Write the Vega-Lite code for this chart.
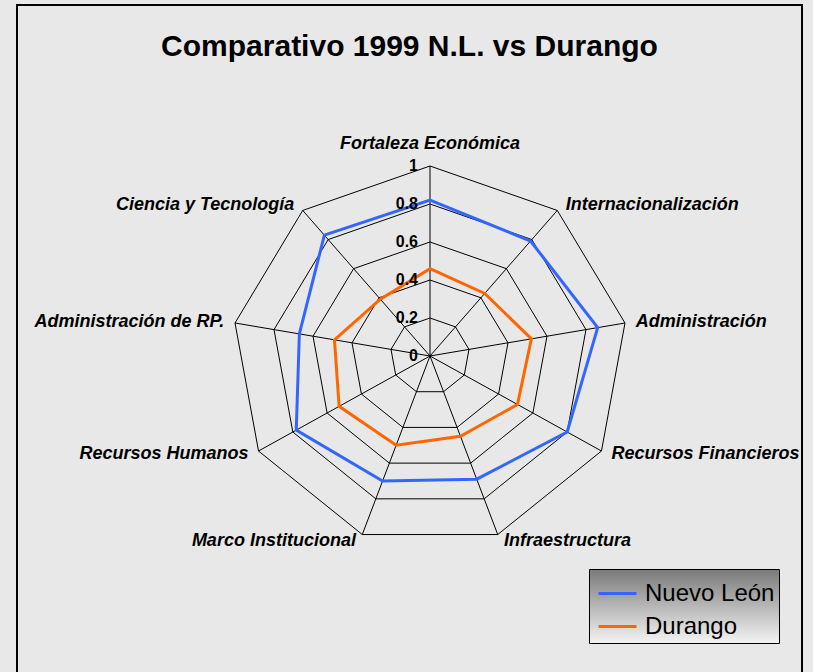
{
  "$schema": "https://vega.github.io/schema/vega-lite/v6.json",
  "width": 785,
  "height": 700,
  "autosize": {"type": "none"},
  "padding": {"left": 17, "top": 5, "right": 11, "bottom": 0},
  "background": "#e8e8e8",
  "title": {"text": "Comparativo 1999 N.L. vs Durango", "font": "Liberation Sans", "fontSize": 30, "fontWeight": "bold", "color": "black", "anchor": "middle", "offset": -57},
  "config": {"view": {"stroke": "black", "strokeWidth": 2}},
  "datasets": {
    "cats": [
      {"cat": "Fortaleza Económica", "i": 0, "levels": [0.2, 0.4, 0.6, 0.8, 1]},
      {"cat": "Internacionalización", "i": 1, "levels": [0.2, 0.4, 0.6, 0.8, 1]},
      {"cat": "Administración", "i": 2, "levels": [0.2, 0.4, 0.6, 0.8, 1]},
      {"cat": "Recursos Financieros", "i": 3, "levels": [0.2, 0.4, 0.6, 0.8, 1]},
      {"cat": "Infraestructura", "i": 4, "levels": [0.2, 0.4, 0.6, 0.8, 1]},
      {"cat": "Marco Institucional", "i": 5, "levels": [0.2, 0.4, 0.6, 0.8, 1]},
      {"cat": "Recursos Humanos", "i": 6, "levels": [0.2, 0.4, 0.6, 0.8, 1]},
      {"cat": "Administración de RP.", "i": 7, "levels": [0.2, 0.4, 0.6, 0.8, 1]},
      {"cat": "Ciencia y Tecnología", "i": 8, "levels": [0.2, 0.4, 0.6, 0.8, 1]}
    ],
    "series": [
      {"serie": "Nuevo León", "cat": "Fortaleza Económica", "i": 0, "v": 0.82},
      {"serie": "Nuevo León", "cat": "Internacionalización", "i": 1, "v": 0.79},
      {"serie": "Nuevo León", "cat": "Administración", "i": 2, "v": 0.86},
      {"serie": "Nuevo León", "cat": "Recursos Financieros", "i": 3, "v": 0.8},
      {"serie": "Nuevo León", "cat": "Infraestructura", "i": 4, "v": 0.69},
      {"serie": "Nuevo León", "cat": "Marco Institucional", "i": 5, "v": 0.7},
      {"serie": "Nuevo León", "cat": "Recursos Humanos", "i": 6, "v": 0.78},
      {"serie": "Nuevo León", "cat": "Administración de RP.", "i": 7, "v": 0.67},
      {"serie": "Nuevo León", "cat": "Ciencia y Tecnología", "i": 8, "v": 0.83},
      {"serie": "Durango", "cat": "Fortaleza Económica", "i": 0, "v": 0.46},
      {"serie": "Durango", "cat": "Internacionalización", "i": 1, "v": 0.43},
      {"serie": "Durango", "cat": "Administración", "i": 2, "v": 0.52},
      {"serie": "Durango", "cat": "Recursos Financieros", "i": 3, "v": 0.51},
      {"serie": "Durango", "cat": "Infraestructura", "i": 4, "v": 0.45},
      {"serie": "Durango", "cat": "Marco Institucional", "i": 5, "v": 0.5},
      {"serie": "Durango", "cat": "Recursos Humanos", "i": 6, "v": 0.53},
      {"serie": "Durango", "cat": "Administración de RP.", "i": 7, "v": 0.49},
      {"serie": "Durango", "cat": "Ciencia y Tecnología", "i": 8, "v": 0.39}
    ],
    "ticks": [
      {"t": 0, "lab": "0"},
      {"t": 0.2, "lab": "0.2"},
      {"t": 0.4, "lab": "0.4"},
      {"t": 0.6, "lab": "0.6"},
      {"t": 0.8, "lab": "0.8"},
      {"t": 1, "lab": "1"}
    ]
  },
  "layer": [
    {
      "data": {"name": "cats"},
      "transform": [
        {"flatten": ["levels"], "as": ["lev"]},
        {"calculate": "datum.i*2*PI/9", "as": "a"},
        {"calculate": "datum.lev*sin(datum.a)", "as": "gx"},
        {"calculate": "datum.lev*cos(datum.a)", "as": "gy"}
      ],
      "mark": {"type": "line", "interpolate": "linear-closed", "color": "black", "strokeWidth": 1},
      "encoding": {
        "x": {"field": "gx", "type": "quantitative", "scale": {"domain": [-1, 1], "range": [215, 611]}, "axis": null},
        "y": {"field": "gy", "type": "quantitative", "scale": {"domain": [-1, 1], "range": [541, 161]}, "axis": null},
        "detail": {"field": "lev", "type": "nominal"},
        "order": {"field": "i", "type": "quantitative"}
      }
    },
    {
      "data": {"name": "cats"},
      "transform": [
        {"calculate": "datum.i*2*PI/9", "as": "a"},
        {"calculate": "sin(datum.a)", "as": "sx"},
        {"calculate": "cos(datum.a)", "as": "sy"}
      ],
      "mark": {"type": "rule", "color": "black", "strokeWidth": 1},
      "encoding": {
        "x": {"field": "sx", "type": "quantitative", "axis": null},
        "y": {"field": "sy", "type": "quantitative", "axis": null},
        "x2": {"datum": 0},
        "y2": {"datum": 0}
      }
    },
    {
      "data": {"name": "series"},
      "transform": [
        {"calculate": "datum.i*2*PI/9", "as": "a"},
        {"calculate": "datum.v*sin(datum.a)", "as": "px"},
        {"calculate": "datum.v*cos(datum.a)", "as": "py"}
      ],
      "mark": {"type": "line", "interpolate": "linear-closed", "strokeWidth": 3},
      "encoding": {
        "x": {"field": "px", "type": "quantitative", "axis": null},
        "y": {"field": "py", "type": "quantitative", "axis": null},
        "order": {"field": "i", "type": "quantitative"},
        "color": {
          "field": "serie",
          "type": "nominal",
          "scale": {"domain": ["Nuevo León", "Durango"], "range": ["#3366ff", "#ff6600"]},
          "legend": {
            "title": null,
            "orient": "none",
            "legendX": 572,
            "legendY": 564,
            "direction": "vertical",
            "symbolType": "stroke",
            "symbolStrokeWidth": 3,
            "symbolSize": 1444,
            "symbolOffset": 4,
            "labelFont": "Liberation Sans",
            "labelFontSize": 24,
            "labelColor": "black",
            "labelOffset": 7,
            "rowPadding": 0,
            "padding": 4,
            "strokeColor": "black",
            "fillColor": {"expr": "{gradient: 'linear', x1: 0, y1: 0, x2: 0, y2: 1, stops: [{offset: 0, color: '#7a7a7a'}, {offset: 1, color: '#f4f4f4'}]}"}
          }
        }
      }
    },
    {
      "data": {"name": "ticks"},
      "mark": {"type": "text", "align": "right", "baseline": "middle", "dx": -12, "font": "Liberation Sans", "fontSize": 16, "fontWeight": "bold", "color": "black"},
      "encoding": {
        "x": {"datum": 0, "type": "quantitative", "axis": null},
        "y": {"field": "t", "type": "quantitative", "axis": null},
        "text": {"field": "lab"}
      }
    },
    {
      "data": {"name": "cats"},
      "transform": [{"filter": "datum.i == 0"}],
      "mark": {"type": "text", "align": "center", "baseline": "middle", "dy": -22, "font": "Liberation Sans", "fontSize": 18, "fontWeight": "bold", "fontStyle": "italic", "color": "black"},
      "encoding": {
        "x": {"datum": 0, "type": "quantitative", "axis": null},
        "y": {"datum": 1, "type": "quantitative", "axis": null},
        "text": {"field": "cat"}
      }
    },
    {
      "data": {"name": "cats"},
      "transform": [
        {"filter": "datum.i >= 1 && datum.i <= 4"},
        {"calculate": "datum.i*2*PI/9", "as": "a"},
        {"calculate": "1.035*sin(datum.a)", "as": "lx"},
        {"calculate": "1.035*cos(datum.a)", "as": "ly"}
      ],
      "mark": {"type": "text", "align": "left", "baseline": "middle", "dx": 4, "font": "Liberation Sans", "fontSize": 18, "fontWeight": "bold", "fontStyle": "italic", "color": "black"},
      "encoding": {
        "x": {"field": "lx", "type": "quantitative", "axis": null},
        "y": {"field": "ly", "type": "quantitative", "axis": null},
        "text": {"field": "cat"}
      }
    },
    {
      "data": {"name": "cats"},
      "transform": [
        {"filter": "datum.i >= 5"},
        {"calculate": "datum.i*2*PI/9", "as": "a"},
        {"calculate": "1.035*sin(datum.a)", "as": "lx"},
        {"calculate": "1.035*cos(datum.a)", "as": "ly"}
      ],
      "mark": {"type": "text", "align": "right", "baseline": "middle", "dx": -4, "font": "Liberation Sans", "fontSize": 18, "fontWeight": "bold", "fontStyle": "italic", "color": "black"},
      "encoding": {
        "x": {"field": "lx", "type": "quantitative", "axis": null},
        "y": {"field": "ly", "type": "quantitative", "axis": null},
        "text": {"field": "cat"}
      }
    }
  ]
}
